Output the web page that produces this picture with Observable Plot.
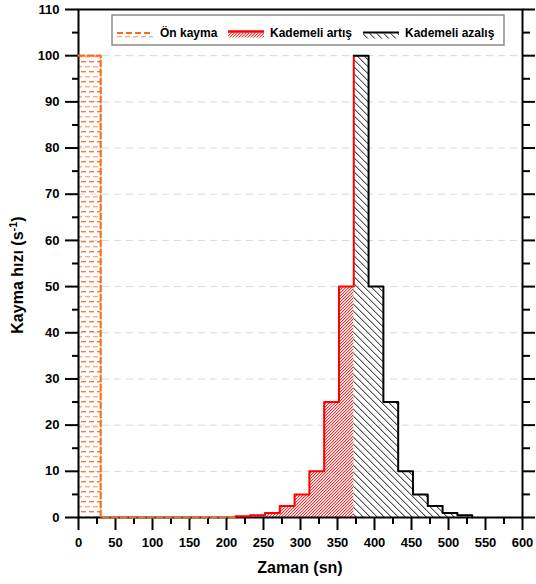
<!DOCTYPE html>
<html><head><meta charset="utf-8">
<script src="https://cdn.jsdelivr.net/npm/d3@7"></script>
<script src="https://cdn.jsdelivr.net/npm/@observablehq/plot@0.6"></script>
<style>body{margin:0;background:#fff} #chart{width:536px;height:584px}</style>
</head><body><div id="chart"></div>
<script>
// Ön kayma (pre-shear)
const preTime = [0, 30, 212];
const preRate = [100, 0, 0];
// Kademeli artış (stepwise increase)
const upTime = [212, 232, 252, 272, 292, 312, 332, 352, 372];
const upRate = [0.25, 0.5, 1, 2.5, 5, 10, 25, 50, 100];
// Kademeli azalış (stepwise decrease)
const downTime = [372, 392, 412, 432, 452, 472, 492, 512, 532];
const downRate = [100, 50, 25, 10, 5, 2.5, 1, 0.5, 0];
// ticks
const xMajor = [0, 50, 100, 150, 200, 250, 300, 350, 400, 450, 500, 550, 600];
const xMinor = [25, 75, 125, 175, 225, 275, 325, 375, 425, 475, 525, 575];
const yMajor = [0, 10, 20, 30, 40, 50, 60, 70, 80, 90, 100, 110];
const yMinor = [5, 15, 25, 35, 45, 55, 65, 75, 85, 95, 105];
const gridY = [10, 20, 30, 40, 50, 60, 70, 80, 90, 100];
const legendLabels = ["Ön kayma", "Kademeli artış", "Kademeli azalış"];
const xTitle = "Zaman (sn)";
const yTitle = "Kayma hızı (s";
const yTitleSup = "-1";

const pre = preTime.map((t, i) => ({t, v: preRate[i]}));
const up = upTime.map((t, i) => ({t, v: upRate[i]}));
const down = downTime.map((t, i) => ({t, v: downRate[i]}));

const FONT = "'Liberation Sans', Arial, sans-serif";
const blank = () => "";

const plot = Plot.plot({
  width: 536, height: 584,
  marginLeft: 78, marginRight: 14, marginTop: 9, marginBottom: 67,
  x: {domain: [0, 600], label: null},
  y: {domain: [0, 110], label: null},
  style: {fontFamily: FONT, fontSize: "13px", fontWeight: "bold", background: "white", color: "black"},
  marks: [
    Plot.ruleY(gridY, {stroke: "#d8d8d8", strokeDasharray: "7,5", strokeWidth: 1}),
    Plot.areaY(pre, {x: "t", y: "v", curve: "step-after", fill: "url(#patOrange)"}),
    Plot.areaY(up, {x: "t", y: "v", curve: "step-after", fill: "url(#patRed)"}),
    Plot.areaY(down, {x: "t", y: "v", curve: "step-after", fill: "url(#patBlack)"}),
    Plot.axisX(xMinor, {tickSize: 7, tickFormat: blank, strokeWidth: 2, label: null}),
    Plot.axisX(xMajor, {tickSize: 13, tickPadding: 7, strokeWidth: 2, label: null, fontSize: 13}),
    Plot.axisY(yMinor, {tickSize: 6, tickFormat: blank, strokeWidth: 2, label: null}),
    Plot.axisY(yMajor, {tickSize: 13, tickPadding: 6, strokeWidth: 2, label: null, fontSize: 13}),
    Plot.axisY(yMinor, {anchor: "right", tickSize: 7, tickFormat: blank, strokeWidth: 2, label: null}),
    Plot.axisY(yMajor, {anchor: "right", tickSize: 12, tickFormat: blank, strokeWidth: 2, label: null}),
    Plot.frame({stroke: "black", strokeWidth: 2}),
    Plot.lineY(up, {x: "t", y: "v", curve: "step-after", stroke: "#ff0000", strokeWidth: 2}),
    Plot.lineY(down, {x: "t", y: "v", curve: "step-after", stroke: "black", strokeWidth: 2}),
    Plot.lineY(pre, {x: "t", y: "v", curve: "step-after", stroke: "#f37021", strokeWidth: 2.2, strokeDasharray: "6,3"})
  ]
});

const svg = d3.select(plot);
const defs = svg.insert("defs", ":first-child");
// orange dashed-row pattern
const po = defs.append("pattern").attr("id", "patOrange").attr("patternUnits", "userSpaceOnUse")
  .attr("width", 8).attr("height", 10);
po.append("rect").attr("x", 1).attr("y", 1).attr("width", 5).attr("height", 1.4).attr("fill", "#f47a3a");
po.append("rect").attr("x", 5).attr("y", 6).attr("width", 5).attr("height", 1.4).attr("fill", "#f9ad85");
po.append("rect").attr("x", -3).attr("y", 6).attr("width", 5).attr("height", 1.4).attr("fill", "#f9ad85");
// red fine diagonal hatch (pixel diagonals)
const pr = defs.append("pattern").attr("id", "patRed").attr("patternUnits", "userSpaceOnUse")
  .attr("width", 3).attr("height", 3);
[[0, 2], [1, 1], [2, 0]].forEach(([x, y]) => pr.append("rect").attr("x", x).attr("y", y).attr("width", 1).attr("height", 1).attr("fill", "#ff2b2b"));
[[1, 2], [2, 1], [0, 0]].forEach(([x, y]) => pr.append("rect").attr("x", x).attr("y", y).attr("width", 1).attr("height", 1).attr("fill", "#ffc2c2"));
// black backslash hatch
const pb = defs.append("pattern").attr("id", "patBlack").attr("patternUnits", "userSpaceOnUse")
  .attr("width", 7).attr("height", 7);
[0, 1, 2, 3, 4, 5, 6].forEach(i => {
  pb.append("rect").attr("x", i).attr("y", i).attr("width", 1).attr("height", 1).attr("fill", "#555");
  pb.append("rect").attr("x", (i + 1) % 7).attr("y", i).attr("width", 1).attr("height", 1).attr("fill", "#b8b8b8");
});

// Legend
const lg = svg.append("g").attr("font-family", FONT).attr("font-weight", "bold").attr("font-size", 12).attr("text-anchor", "start");
lg.append("rect").attr("x", 112).attr("y", 15).attr("width", 392).attr("height", 30)
  .attr("fill", "white").attr("stroke", "#8a8a8a").attr("stroke-width", 1.5);
// item 1
lg.append("rect").attr("x", 117).attr("y", 34).attr("width", 36).attr("height", 6).attr("fill", "url(#patOrange)");
lg.append("line").attr("x1", 117).attr("x2", 153).attr("y1", 33).attr("y2", 33)
  .attr("stroke", "#f37021").attr("stroke-width", 2).attr("stroke-dasharray", "6,3");
lg.append("text").attr("x", 160).attr("y", 37).text(legendLabels[0]);
// item 2
lg.append("rect").attr("x", 228).attr("y", 32.5).attr("width", 36).attr("height", 5).attr("fill", "url(#patRed)");
lg.append("line").attr("x1", 228).attr("x2", 264).attr("y1", 31.5).attr("y2", 31.5)
  .attr("stroke", "#ff0000").attr("stroke-width", 2.5);
lg.append("text").attr("x", 270).attr("y", 37).text(legendLabels[1]);
// item 3
lg.append("rect").attr("x", 363).attr("y", 33.5).attr("width", 36).attr("height", 5).attr("fill", "url(#patBlack)");
lg.append("line").attr("x1", 363).attr("x2", 399).attr("y1", 32.5).attr("y2", 32.5)
  .attr("stroke", "black").attr("stroke-width", 2);
lg.append("text").attr("x", 405).attr("y", 37).text(legendLabels[2]);

// Axis titles
svg.append("text").attr("x", 300).attr("y", 573).attr("text-anchor", "middle")
  .attr("font-family", FONT).attr("font-weight", "bold").attr("font-size", 16).text(xTitle);
const yt = svg.append("text").attr("transform", "translate(23,275) rotate(-90)").attr("text-anchor", "middle")
  .attr("font-family", FONT).attr("font-weight", "bold").attr("font-size", 16);
yt.append("tspan").text(yTitle);
yt.append("tspan").attr("dy", -6).attr("font-size", 11).text(yTitleSup);
yt.append("tspan").attr("dy", 6).text(")");

document.getElementById("chart").appendChild(plot);
</script>
</body></html>
